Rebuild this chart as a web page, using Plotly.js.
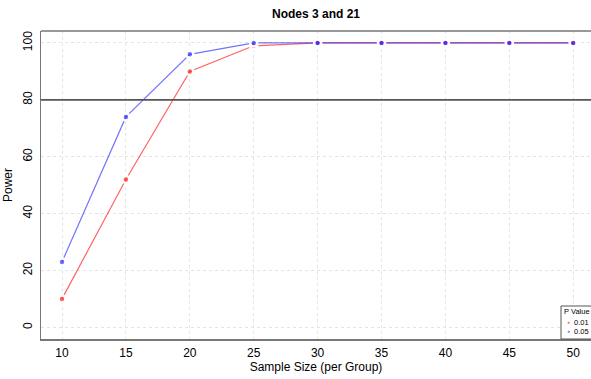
<!DOCTYPE html>
<html>
<head>
<meta charset="utf-8">
<script src="https://cdn.plot.ly/plotly-3.0.1.min.js"></script>
<style>html,body{margin:0;padding:0;background:#fff;}#chart{width:591px;height:379px;}</style>
</head>
<body>
<div id="chart"></div>
<script>
var sampleSize = [10, 15, 20, 25, 30, 35, 40, 45, 50];
var power001 = [10, 52, 90, 99, 100, 100, 100, 100, 100];
var power005 = [23, 74, 96, 100, 100, 100, 100, 100, 100];
var seriesNames = ['0.01', '0.05'];
var seriesColors = ['rgba(255,40,40,0.72)', 'rgba(40,40,255,0.65)'];
var xTicks = [10, 15, 20, 25, 30, 35, 40, 45, 50];
var yTicks = [0, 20, 40, 60, 80, 100];
var threshold = 80;

var series = [power001, power005];
var traces = [];
series.forEach(function (vals, i) {
  traces.push({
    x: sampleSize, y: vals, type: 'scatter', mode: 'lines+markers',
    name: seriesNames[i], showlegend: false,
    line: {color: seriesColors[i], width: 1.2},
    marker: {color: seriesColors[i], size: 7, line: {color: '#ffffff', width: 2.5}},
    cliponaxis: false
  });
});

var font = {family: 'Liberation Sans, Arial, sans-serif', size: 12, color: '#000'};
var layout = {
  width: 591, height: 379,
  margin: {l: 41, r: 0, t: 31, b: 40, autoexpand: false},
  paper_bgcolor: '#fff', plot_bgcolor: '#fff',
  font: font,
  showlegend: false,
  title: {text: '<b>Nodes 3 and 21</b>', font: {family: font.family, size: 12, color: '#000'},
          x: 0.5, xref: 'paper', xanchor: 'center', y: 0.963, yref: 'container', yanchor: 'middle'},
  xaxis: {
    range: [8.357, 51.39], tickvals: xTicks, ticktext: xTicks.map(String),
    showgrid: true, gridcolor: '#e4e4e4', griddash: 'dot', gridwidth: 1,
    zeroline: false, showline: true, linecolor: '#777', linewidth: 1.5,
    ticks: 'outside', ticklen: 2, tickcolor: 'rgba(0,0,0,0)',
    tickfont: {family: font.family, size: 12, color: '#000'},
    title: {text: 'Sample Size (per Group)', font: {family: font.family, size: 12, color: '#000'}, standoff: 3}
  },
  yaxis: {
    range: [-4.1, 104.2], tickvals: yTicks, ticktext: yTicks.map(String), tickangle: -90,
    showgrid: true, gridcolor: '#e4e4e4', griddash: 'dot', gridwidth: 1,
    zeroline: false, showline: true, linecolor: '#777', linewidth: 1.5,
    ticks: 'outside', ticklen: 3, tickcolor: 'rgba(0,0,0,0)',
    tickfont: {family: font.family, size: 12, color: '#000'}
  },
  shapes: [
    {type: 'line', xref: 'paper', yref: 'paper', x0: 0, x1: 1, y0: 1, y1: 1, line: {color: '#777', width: 1.5}},
    {type: 'line', xref: 'paper', yref: 'y', x0: 0, x1: 1, y0: threshold, y1: threshold, line: {color: '#555', width: 1.8}},
    {type: 'rect', xref: 'paper', yref: 'paper', x0: (561 - 41) / 550, x1: 1.05, y0: 0, y1: (339 - 306) / 308,
     line: {color: '#555', width: 1}, fillcolor: '#fff', layer: 'above'}
  ],
  annotations: [
    {text: 'Power', textangle: -90, xref: 'paper', yref: 'paper', x: (8 - 41) / 550, y: 0.5,
     xanchor: 'center', yanchor: 'middle', showarrow: false, font: {family: font.family, size: 12, color: '#000'}},
    {text: 'P Value', xref: 'paper', yref: 'paper', x: (562 - 41) / 550, y: (339 - 311) / 308,
     xanchor: 'left', yanchor: 'middle', showarrow: false, font: {family: font.family, size: 7.5, color: '#000'}}
  ]
};
seriesNames.forEach(function (nm, i) {
  var py = [322, 331][i];
  layout.annotations.push({text: '●', xref: 'paper', yref: 'paper', x: (568 - 41) / 550, y: (339 - py) / 308,
    xanchor: 'center', yanchor: 'middle', showarrow: false, font: {family: font.family, size: 5, color: seriesColors[i]}});
  layout.annotations.push({text: nm, xref: 'paper', yref: 'paper', x: (572 - 41) / 550, y: (339 - py) / 308,
    xanchor: 'left', yanchor: 'middle', showarrow: false, font: {family: font.family, size: 7.5, color: '#000'}});
});

Plotly.newPlot('chart', traces, layout, {displayModeBar: false, staticPlot: true});
</script>
</body>
</html>
